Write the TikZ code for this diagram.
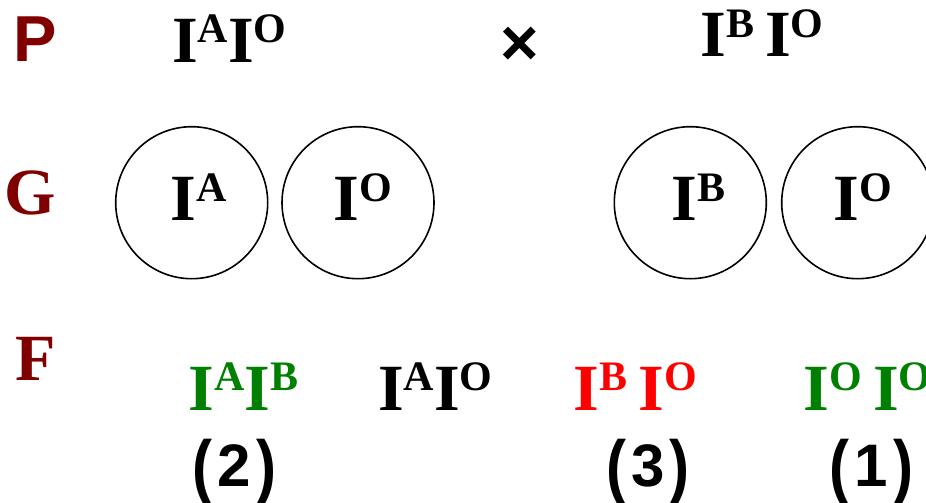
\documentclass[tikz,border=0pt]{standalone}
\usepackage{fontspec}
\setmainfont{Liberation Serif}
\setsansfont{Liberation Sans}
\usepackage{xcolor}
\usepackage{graphicx}
\definecolor{darkred}{HTML}{800000}
\definecolor{gengreen}{HTML}{008000}
\newcommand{\genefont}{\fontsize{66}{66}\selectfont\bfseries}
\newcommand{\supfont}{\fontsize{42}{42}\selectfont\bfseries}
\newcommand{\allele}[1]{I\raisebox{19.5pt}{\supfont #1}}
\newcommand{\agap}{\hspace{11pt}}
\newcommand{\tallparen}[1]{\raisebox{-4pt}{\scalebox{1}[1.18]{#1}}}
\newcommand{\ratiocount}[1]{\tallparen{(}\kern5pt #1\kern5pt\tallparen{)}}
\tikzset{
  gene/.style={anchor=base west, inner sep=0pt, font=\genefont},
  rowlab/.style={anchor=base west, inner sep=0pt, text=darkred},
  gamete/.style={draw, circle, minimum size=152pt, inner sep=0pt, line width=1.6pt},
  ratio/.style={anchor=base, inner sep=0pt, font=\sffamily\bfseries\fontsize{60}{60}\selectfont}
}
\begin{document}
\begin{tikzpicture}[x=1pt,y=-1pt]
\useasboundingbox (0,0) rectangle (926,503);
\node[rowlab, font=\sffamily\bfseries\fontsize{65}{65}\selectfont] (rowP) at (13,62) {P};
\node[gene] (parA) at (172,62.3) {\allele{A}\allele{O}};
\node[inner sep=0pt, font=\sffamily\bfseries\fontsize{66}{66}\selectfont] (cross) at (519.5,46) {×};
\node[gene] (parB) at (700.4,56.7) {\allele{B}\agap\allele{O}};

\node[rowlab, font=\genefont] (rowG) at (4.3,214) {G};
\node[gamete] (gamA) at (191.7,202.7) {};
\node[gamete] (gamOa) at (358,202.7) {};
\node[gamete] (gamB) at (690.3,202.7) {};
\node[gamete] (gamOb) at (857.7,202.7) {};
\node[gene] (txtA) at (170.4,220.7) {\allele{A}};
\node[gene] (txtOa) at (333.7,220.7) {\allele{O}};
\node[gene] (txtB) at (671.4,220.7) {\allele{B}};
\node[gene] (txtOb) at (833.7,220.7) {\allele{O}};

\node[rowlab, font=\genefont] (rowF) at (15,380.7) {F};
\node[gene, text=gengreen] (offAB) at (188.7,410) {\allele{A}\allele{B}};
\node[gene] (offAO) at (378,410) {\allele{A}\allele{O}};
\node[gene, text=red] (offBO) at (573.7,410) {\allele{B}\agap\allele{O}};
\node[gene, text=gengreen] (offOO) at (803.7,410) {\allele{O}\agap\allele{O}};
\node[ratio] (numAB) at (234.5,486) {\ratiocount{2}};
\node[ratio] (numBO) at (648,486) {\ratiocount{3}};
\node[ratio] (numOO) at (871.5,486) {\ratiocount{1}};
\end{tikzpicture}
\end{document}
